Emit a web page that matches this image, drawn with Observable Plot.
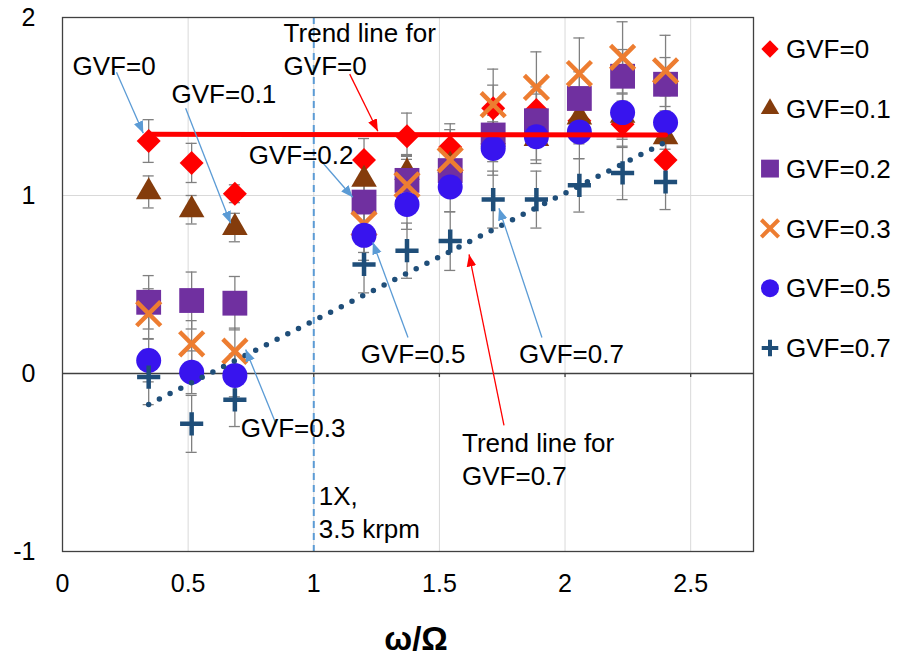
<!DOCTYPE html>
<html>
<head>
<meta charset="utf-8">
<script src="https://cdn.jsdelivr.net/npm/d3@7"></script>
<script src="https://cdn.jsdelivr.net/npm/@observablehq/plot@0.6"></script>
<style>
  html, body { margin: 0; padding: 0; background: #fff; }
  svg { display: block; }
</style>
</head>
<body>
<div id="chart"></div>
<script>
// ---- data ----
const xRatio = [0.343, 0.514, 0.686, 1.2, 1.371, 1.543, 1.714, 1.886, 2.057, 2.229, 2.4];
const seriesNames = ["GVF=0", "GVF=0.1", "GVF=0.2", "GVF=0.3", "GVF=0.5", "GVF=0.7"];

const gvf0  = [1.306, 1.183, 1.01, 1.20, 1.333, 1.273, 1.49, 1.48, 1.42, 1.40, 1.20];
const gvf01 = [1.02, 0.92, 0.82, 1.09, 1.13, 1.17, 1.33, 1.32, 1.44, 1.45, 1.33];
const gvf02 = [0.40, 0.41, 0.395, 0.963, 1.085, 1.14, 1.34, 1.42, 1.545, 1.67, 1.625];
const gvf03 = [0.336, 0.167, 0.125, 0.84, 1.06, 1.20, 1.51, 1.607, 1.685, 1.776, 1.70];
const gvf05 = [0.073, 0.007, -0.011, 0.776, 0.95, 1.048, 1.264, 1.33, 1.357, 1.466, 1.41];
const gvf07 = [-0.02, -0.283, -0.148, 0.613, 0.69, 0.744, 0.977, 0.977, 1.057, 1.127, 1.076];

const err0  = [0.12, 0.11, 0.05, 0.12, 0.13, 0.13, 0.13, 0.13, 0.13, 0.13, 0.12];
const err01 = [0.09, 0.08, 0.08, 0.10, 0.10, 0.10, 0.12, 0.12, 0.12, 0.12, 0.12];
const err02 = [0.15, 0.16, 0.15, 0.14, 0.14, 0.14, 0.15, 0.15, 0.15, 0.15, 0.15];
const err03 = [0.14, 0.13, 0.13, 0.16, 0.16, 0.17, 0.20, 0.20, 0.20, 0.20, 0.20];
const err05 = [0.12, 0.12, 0.12, 0.14, 0.14, 0.14, 0.15, 0.15, 0.15, 0.15, 0.15];
const err07 = [0.155, 0.16, 0.15, 0.16, 0.155, 0.165, 0.16, 0.16, 0.15, 0.15, 0.155];

const trend0X = [0.343, 2.4];
const trend0Y = [1.344, 1.34];
const trend07X = [0.343, 2.4];
const trend07Y = [-0.174, 1.30];

const xTicks = [0, 0.5, 1, 1.5, 2, 2.5];
const yTicks = [-1, 0, 1, 2];

const annoLabels = ["GVF=0", "GVF=0.1", "Trend line for\nGVF=0", "GVF=0.2", "GVF=0.5", "GVF=0.7", "GVF=0.3", "Trend line for\nGVF=0.7", "1X,\n3.5 krpm"];
const annoX = [0.04, 0.434, 0.880, 0.741, 1.187, 1.817, 0.709, 1.59, 1.02];
const annoY = [1.738, 1.580, 1.831, 1.237, 0.118, 0.118, -0.298, -0.472, -0.773];

const arrowFromX = [0.215, 0.490, 1.143, 1.02, 1.375, 1.908, 0.849, 1.757];
const arrowFromY = [1.693, 1.490, 1.682, 1.209, 0.202, 0.202, -0.281, -0.292];
const arrowToX   = [0.3215, 0.669, 1.255, 1.155, 1.235, 1.737, 0.729, 1.618];
const arrowToY   = [1.350, 0.844, 1.361, 0.99, 0.737, 0.928, 0.135, 0.669];
const arrowKind  = ["blue", "blue", "red", "blue", "blue", "blue", "blue", "red"];

// ---- styles ----
const FONT = "'Liberation Sans', Arial, Helvetica, sans-serif";
const styles = [
  {symbol: "diamond2", color: "#ff0000", r: 10.8, filled: true},
  {symbol: "triangle", color: "#843c0c", r: 9.5, filled: true},
  {symbol: "square",   color: "#7030a0", r: 14, filled: true},
  {symbol: "times",    color: "#ed7d31", r: 11, filled: false},
  {symbol: "circle",   color: "#3814ee", r: 12.5, filled: true},
  {symbol: "plus",     color: "#1f4e79", r: 7.5, filled: false}
];
const arrowColors = {blue: "#5b9bd5", red: "#ff0000"};

const seriesValues = [gvf0, gvf01, gvf02, gvf03, gvf05, gvf07];
const seriesErrors = [err0, err01, err02, err03, err05, err07];

const rows = seriesValues.flatMap((vals, si) =>
  xRatio.map((x, j) => ({s: si, x, y: vals[j], e: seriesErrors[si][j]})));

const trends = [
  ...trend0X.map((x, i) => ({t: "g0", x, y: trend0Y[i]})),
  ...trend07X.map((x, i) => ({t: "g7", x, y: trend07Y[i]}))
];
const annos = annoLabels.map((t, i) => ({t, x: annoX[i], y: annoY[i]}));
const arrows = arrowFromX.map((x, i) => ({x1: x, y1: arrowFromY[i], x2: arrowToX[i], y2: arrowToY[i], c: arrowColors[arrowKind[i]]}));

function filledArrow(color, context) {
  return d3.create("svg:marker")
    .attr("viewBox", "-10 -5 10 10")
    .attr("markerUnits", "userSpaceOnUse")
    .attr("markerWidth", 12)
    .attr("markerHeight", 12)
    .attr("refX", 0)
    .attr("refY", 0)
    .attr("orient", "auto")
    .attr("fill", color)
    .attr("stroke", "none")
    .call(m => m.append("path").attr("d", "M-10,-4L0,0L-10,4Z"))
    .node();
}

const CAP = 0.022;
const errColor = "#808080";

const dotMarks = styles.map((st, si) => Plot.dot(rows.filter(d => d.s === si), {
  x: "x", y: "y", symbol: () => st.symbol, r: st.r,
  fill: st.filled ? st.color : "none",
  stroke: st.filled ? "none" : st.color,
  strokeWidth: st.filled ? 0 : 4.5
}));

const plot = Plot.plot({
  width: 904,
  height: 668,
  marginTop: 17,
  marginRight: 151,
  marginBottom: 117,
  marginLeft: 62,
  style: {fontFamily: FONT, fontSize: "25px", color: "#000", background: "#fff"},
  x: {domain: [0, 2.75], label: null},
  y: {domain: [-1, 2], label: null},
  symbol: {type: "identity"},
  marks: [
    Plot.gridX(xTicks.filter(d => d > 0), {stroke: "#d9d9d9", strokeOpacity: 1}),
    Plot.gridY([1], {stroke: "#d9d9d9", strokeOpacity: 1}),
    Plot.ruleY([0], {stroke: "#404040", strokeWidth: 1.3}),
    Plot.ruleX(xTicks.filter(d => d > 0), {y1: 0, y2: -0.022, stroke: "#404040", strokeWidth: 1.3}),
    Plot.ruleX([1], {stroke: "#5b9bd5", strokeWidth: 2, strokeDasharray: "7,5"}),
    Plot.frame({stroke: "#404040", strokeWidth: 1.3}),
    Plot.axisY({ticks: yTicks, tickSize: 0, tickPadding: 27, tickFormat: d => String(d), fontSize: 25, label: null}),
    Plot.axisX({ticks: xTicks, tickSize: 0, tickPadding: 23, tickFormat: d => String(d), fontSize: 25, label: null}),
    // error bars
    Plot.ruleX(rows, {x: "x", y1: d => d.y - d.e, y2: d => d.y + d.e, stroke: errColor, strokeWidth: 1.3}),
    Plot.ruleY(rows, {y: d => d.y - d.e, x1: d => d.x - CAP, x2: d => d.x + CAP, stroke: errColor, strokeWidth: 1.3}),
    Plot.ruleY(rows, {y: d => d.y + d.e, x1: d => d.x - CAP, x2: d => d.x + CAP, stroke: errColor, strokeWidth: 1.3}),
    ...dotMarks,
    // trend lines
    Plot.line(trends.filter(d => d.t === "g0"), {x: "x", y: "y", stroke: "#ff0000", strokeWidth: 5}),
    Plot.line(trends.filter(d => d.t === "g7"), {x: "x", y: "y", stroke: "#1f4e79", strokeWidth: 5.5, strokeDasharray: "0,12", strokeLinecap: "round"}),
    // annotation arrows
    Plot.link(arrows, {x1: "x1", y1: "y1", x2: "x2", y2: "y2", stroke: "c", strokeWidth: 1.3, markerEnd: filledArrow}),
    // annotation texts
    Plot.text(annos, {x: "x", y: "y", text: "t", textAnchor: "start", lineAnchor: "middle", lineHeight: 1.27, fontSize: 26, fill: "#000"}),
    Plot.text(["ω/Ω"], {text: d => d, frameAnchor: "bottom", dy: 98, dx: 8, fontSize: 33, fontWeight: "bold", fill: "#000"})
  ]
});

// ---- legend (right side) ----
const svg = d3.select(plot);
const legendSym = {
  diamond2: d3.symbolDiamond2, triangle: d3.symbolTriangle, square: d3.symbolSquare,
  times: d3.symbolTimes, circle: d3.symbolCircle, plus: d3.symbolPlus
};
const lg = svg.append("g")
  .attr("font-family", FONT)
  .attr("font-size", 26)
  .attr("text-anchor", "start");
seriesNames.forEach((name, i) => {
  const st = styles[i];
  const cy = 49 + i * 59.8;
  const rr = st.r * 0.72;
  lg.append("path")
    .attr("transform", `translate(770,${cy})`)
    .attr("d", d3.symbol(legendSym[st.symbol], rr * rr * Math.PI)())
    .attr("fill", st.filled ? st.color : "none")
    .attr("stroke", st.filled ? "none" : st.color)
    .attr("stroke-width", st.filled ? 0 : 4);
  lg.append("text")
    .attr("x", 786).attr("y", cy).attr("dy", "0.35em")
    .attr("text-anchor", "start")
    .attr("fill", "#000")
    .text(name);
});

document.getElementById("chart").appendChild(plot);
</script>
</body>
</html>
